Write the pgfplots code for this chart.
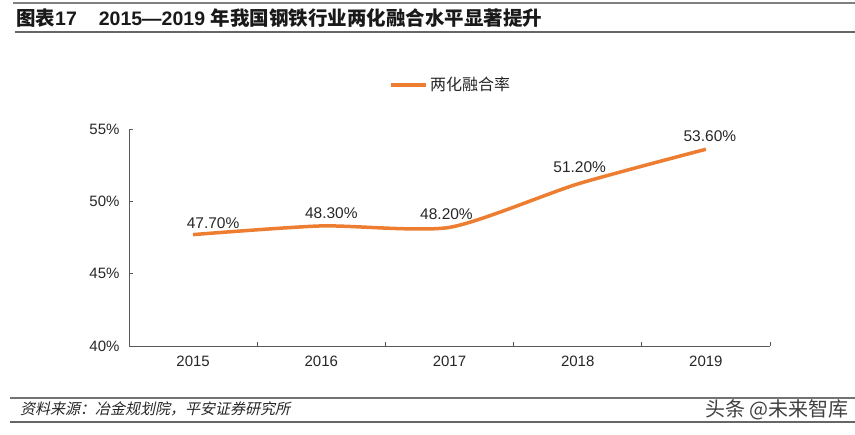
\documentclass[border=0pt]{standalone}
\usepackage{pgfplots}
\pgfplotsset{compat=1.18}
\usepackage{pgfplotstable}
\usepackage{fontspec}
\setmainfont{Liberation Sans}
\newfontfamily\cjk{Noto Sans CJK SC}
\newfontfamily\cjkit[FakeSlant=0.22]{Noto Sans CJK SC}
\definecolor{lineorange}{HTML}{ED7D31}
\definecolor{axisgray}{HTML}{595959}
\definecolor{txt}{HTML}{262626}
\pgfplotstableread{
x y dx dy
0 47.7 20 11
1 48.3 10 13
2 48.2 -3 13
3 51.2 2 17
4 53.6 4 13
}\ratedata
\begin{document}
\begin{tikzpicture}[x=1pt,y=1pt]
\useasboundingbox (0,0) rectangle (855,-435);
% title block
\draw[black!50, line width=2pt] (13,-3) -- (855,-3);
\draw[black!60, line width=2pt] (15,-32) -- (855,-32);
\node[anchor=west, inner sep=0pt, text=black!90, font=\fontsize{19.5}{22}\selectfont\bfseries] at (16,-18)
  {{\cjk\bfseries 图表}17\hspace{22pt}2015—2019 {\cjk\bfseries 年我国钢铁行业两化融合水平显著提升}};
% source block
\draw[black!55, line width=2pt] (10,-398) -- (855,-398);
\draw[black!60, line width=2pt] (10,-422) -- (855,-422);
\node[anchor=west, inner sep=0pt, text=txt, font=\fontsize{15}{17}\selectfont\cjkit] at (20,-409)
  {资料来源：冶金规划院，平安证券研究所};
\node[anchor=east, inner sep=0pt, text=black!75, font=\fontsize{20}{22}\selectfont\cjk] at (849,-410)
  {头条 @未来智库};
\begin{axis}[
  at={(129pt,-346pt)}, anchor=south west,
  scale only axis, width=641pt, height=217pt,
  xmin=-0.5, xmax=4.5, ymin=40, ymax=55,
  axis lines*=left,
  axis line style={axisgray, line width=0.8pt},
  xtick={-0.5,0.5,1.5,2.5,3.5,4.5},
  x tick label as interval,
  xticklabels={2015,2016,2017,2018,2019},
  ytick={40,45,50,55},
  yticklabel={\pgfmathprintnumber{\tick}\%},
  /pgf/number format/assume math mode=true,
  tick align=inside,
  major tick length=4pt,
  tick style={axisgray, line width=0.8pt},
  ticklabel style={font=\fontsize{15}{18}\selectfont, text=txt},
  yticklabel style={xshift=-6pt},
  xticklabel style={yshift=-6pt},
  legend style={at={(0.502,1.203)}, anchor=center, draw=none, fill=none,
    font=\fontsize{16}{19}\selectfont\cjk, text=txt, inner sep=0pt},
  legend image code/.code={\draw[#1] (0pt,0pt) -- (35pt,0pt);},
]
\addplot[lineorange, line width=3.5pt, smooth, tension=0.4,
  nodes near coords={\pgfmathprintnumber[fixed,fixed zerofill,precision=2]{\pgfplotspointmeta}\%},
  visualization depends on={\thisrow{dx} \as \dx},
  visualization depends on={\thisrow{dy} \as \dy},
  every node near coord/.append style={anchor=center, xshift=\dx pt, yshift=\dy pt,
    font=\fontsize{15.5}{18}\selectfont, text=txt},
] table[x=x, y=y] {\ratedata};
\addlegendentry{两化融合率}
\end{axis}
\end{tikzpicture}
\end{document}
